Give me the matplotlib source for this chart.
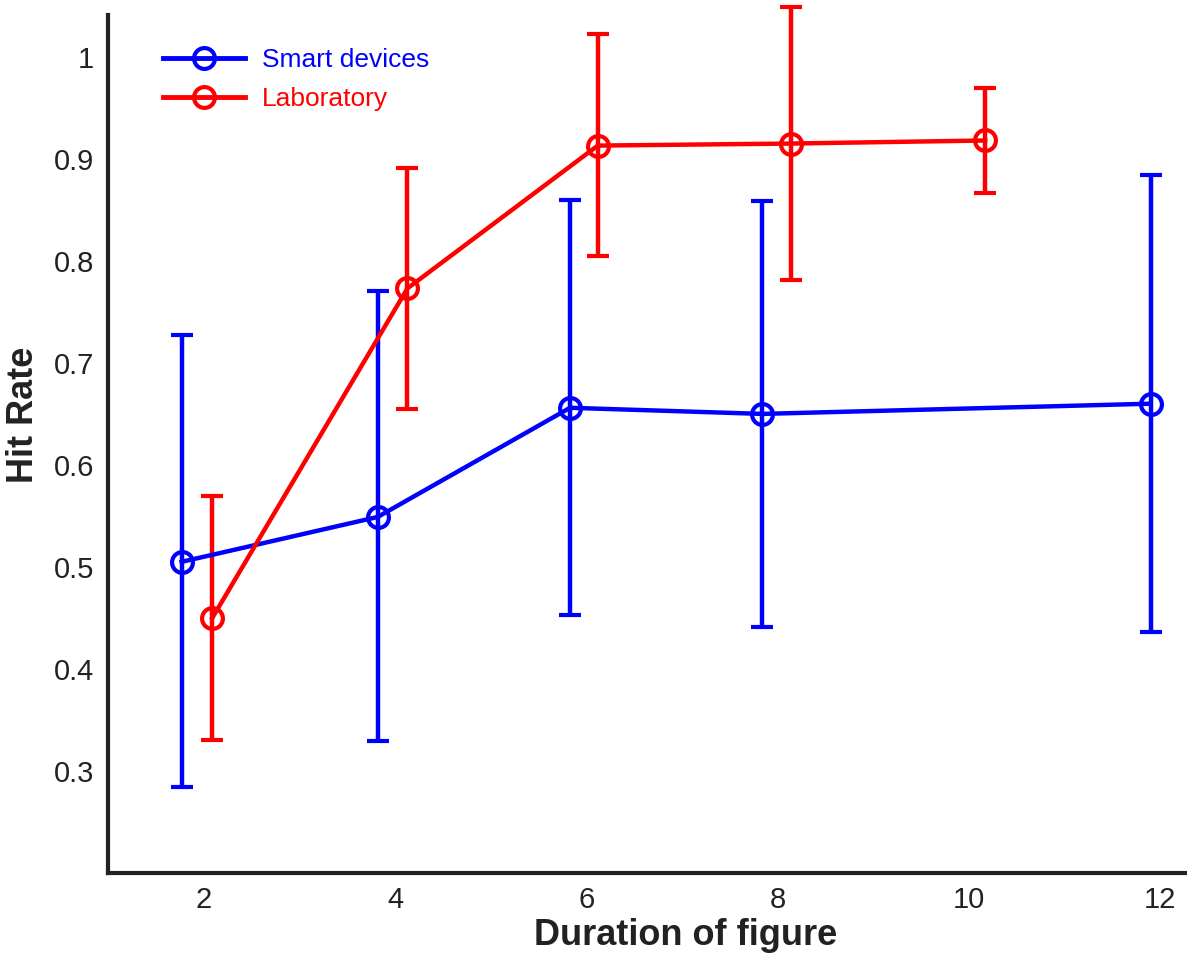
import matplotlib
matplotlib.use("Agg")
import matplotlib.pyplot as plt
from matplotlib.lines import Line2D
import numpy as np

plt.rcParams['font.family'] = ['Liberation Sans', 'DejaVu Sans']

# Data
x_ticks = [2, 4, 6, 8, 10, 12]
tick_labels = ["2", "4", "6", "8", "10", "12"]
y_ticks = [0.3, 0.4, 0.5, 0.6, 0.7, 0.8, 0.9, 1.0]
y_tick_labels = ["0.3", "0.4", "0.5", "0.6", "0.7", "0.8", "0.9", "1"]

smart_x = [1.77, 3.82, 5.83, 7.84, 11.90]
smart_mean = [0.505, 0.549, 0.656, 0.650, 0.660]
smart_low = [0.284, 0.329, 0.453, 0.441, 0.436]
smart_high = [0.727, 0.770, 0.860, 0.859, 0.884]

lab_x = [2.09, 4.13, 6.12, 8.14, 10.17]
lab_mean = [0.450, 0.773, 0.913, 0.915, 0.918]
lab_low = [0.330, 0.655, 0.805, 0.781, 0.867]
lab_high = [0.570, 0.891, 1.022, 1.049, 0.969]

BLUE = '#0000ff'
RED = '#ff0000'

fig = plt.figure(figsize=(11.87, 9.55), dpi=100)
ax = fig.add_axes([108/1187, 1 - 873/955, (1187-108)/1187, (873-15)/955])

def plot_series(x, m, lo, hi, color, label):
    m = np.array(m); lo = np.array(lo); hi = np.array(hi)
    yerr = np.vstack([m - lo, hi - m])
    ax.errorbar(x, m, yerr=yerr, color=color, lw=3.2, elinewidth=3.2,
                capsize=8, capthick=3.2, marker='o', markersize=15,
                markerfacecolor='none', markeredgewidth=3, label=label,
                clip_on=False, zorder=3)

plot_series(smart_x, smart_mean, smart_low, smart_high, BLUE, 'Smart devices')
plot_series(lab_x, lab_mean, lab_low, lab_high, RED, 'Laboratory')

ax.set_xlim(1.0, 12.28)
ax.set_ylim(0.2, 1.041)
ax.set_xticks(x_ticks)
ax.set_xticklabels(tick_labels)
ax.set_yticks(y_ticks)
ax.set_yticklabels(y_tick_labels)
ax.tick_params(axis='both', length=0, labelsize=21, colors='#222222')
ax.tick_params(axis='x', pad=9)
ax.tick_params(axis='y', pad=10)

for s in ['top', 'right']:
    ax.spines[s].set_visible(False)
for s in ['left', 'bottom']:
    ax.spines[s].set_linewidth(3)
    ax.spines[s].set_color('#222222')

ax.set_xlabel('Duration of figure', fontsize=26, fontweight='bold', color='#222222')
ax.set_ylabel('Hit Rate', fontsize=26, fontweight='bold', color='#222222')
ax.xaxis.set_label_coords(0.535, -0.052)
ax.yaxis.set_label_coords(-0.062, 0.534)

handles = [
    Line2D([], [], color=BLUE, lw=3.5, marker='o', markersize=15,
           markerfacecolor='none', markeredgewidth=3),
    Line2D([], [], color=RED, lw=3.5, marker='o', markersize=15,
           markerfacecolor='none', markeredgewidth=3),
]
leg = ax.legend(handles, ['Smart devices', 'Laboratory'], loc='upper left',
                frameon=False, fontsize=19, bbox_to_anchor=(0.051, 0.961),
                borderaxespad=0, borderpad=0, handlelength=3.1,
                handletextpad=0.65, labelspacing=0.55)
for text, color in zip(leg.get_texts(), [BLUE, RED]):
    text.set_color(color)

fig.savefig('out.png', dpi=100, facecolor='white')
